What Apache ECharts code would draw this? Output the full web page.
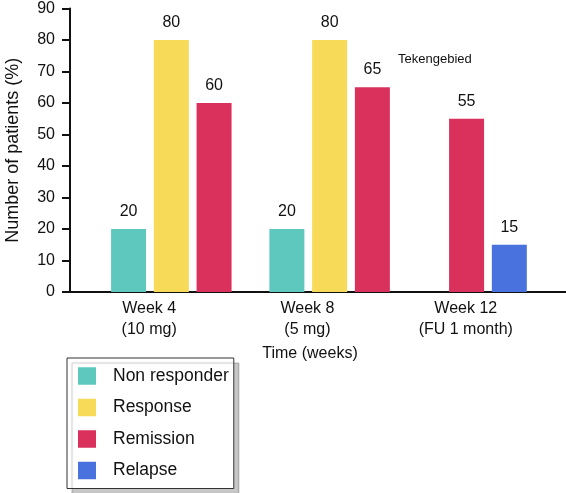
<!DOCTYPE html>
<html><head><meta charset="utf-8">
<script src="https://cdn.jsdelivr.net/npm/echarts@6/dist/echarts.min.js"></script>
<style>html,body{margin:0;padding:0;background:#fff}#c{width:566px;height:493px}</style>
</head><body><div id="c"></div>
<script>
const categories = ['Week 4\n(10 mg)', 'Week 8\n(5 mg)', 'Week 12\n(FU 1 month)'];
const seriesNames = ['Non responder', 'Response', 'Remission', 'Relapse'];
const nonResponder = [20, 20, null];
const response = [80, 80, null];
const remission = [60, 65, 55];
const relapse = [null, null, 15];
const yMin = 0, yMax = 90, yStep = 10;

const allValues = [nonResponder, response, remission, relapse];
const colors = ['#5ec8bf', '#f7da58', '#d9305c', '#4a72df'];
const FONT = '"Liberation Sans", Arial, Helvetica, sans-serif';
const SLOT = 0.27, BAR = 0.221, SHIFT = 0.14;
const catIdx = categories.map((c, i) => i);

function renderBar(si) {
  return function (params, api) {
    const cat = api.value(0), val = api.value(1);
    const present = [];
    allValues.forEach((arr, k) => { if (arr[cat] != null) present.push(k); });
    const n = present.length, k = present.indexOf(si);
    const band = api.size([1, 0])[0];
    const base = api.coord([cat, 0]);
    const top = api.coord([cat, val]);
    const cx = base[0] + band * SHIFT + (k - (n - 1) / 2) * band * SLOT;
    const w = band * BAR;
    return {
      type: 'group', children: [
        { type: 'rect', shape: { x: cx - w / 2, y: top[1], width: w, height: base[1] - top[1] }, style: { fill: colors[si] } },
        { type: 'text', x: cx, y: top[1] - 17.5, style: { text: String(val), fontSize: 16, fontFamily: FONT, fill: '#111', align: 'center', verticalAlign: 'middle' } }
      ]
    };
  };
}

const chart = echarts.init(document.getElementById('c'), null, { renderer: 'canvas' });
chart.setOption({
  animation: false,
  backgroundColor: '#fff',
  textStyle: { fontFamily: FONT },
  title: { text: 'Tekengebied', left: 398, top: 53, padding: 0, textStyle: { fontSize: 13, fontWeight: 'normal', color: '#111', fontFamily: FONT } },
  grid: { left: 70, right: 0, top: 8.5, bottom: 201, containLabel: false, outerBoundsMode: 'none' },
  legend: {
    orient: 'vertical', left: 67, top: 358,
    padding: [9, 5, 9, 11],
    itemWidth: 18, itemHeight: 17.5, itemGap: 13.5, icon: 'rect',
    borderColor: '#333', borderWidth: 1, backgroundColor: '#fff',
    shadowColor: 'rgba(0,0,0,0.22)', shadowOffsetX: 5, shadowOffsetY: 5, shadowBlur: 1,
    textStyle: { fontSize: 17.5, lineHeight: 17, color: '#111', fontFamily: FONT, padding: [0, 0, 0, 12] },
    data: seriesNames
  },
  xAxis: {
    type: 'value', min: -0.5, max: 2.633,
    axisLine: { show: true, onZero: false, lineStyle: { color: '#111', width: 2 } },
    axisTick: { show: false },
    splitLine: { show: false },
    axisLabel: {
      customValues: catIdx,
      formatter: v => categories[Math.round(v)] || '',
      fontSize: 16, lineHeight: 21, margin: 6, color: '#111'
    },
    name: 'Time (weeks)', nameLocation: 'middle', nameGap: 54,
    nameTextStyle: { fontSize: 16, color: '#111', padding: [0, 16, 0, 0] }
  },
  yAxis: {
    type: 'value', min: yMin, max: yMax, interval: yStep,
    axisLine: { show: true, onZero: false, lineStyle: { color: '#111', width: 2 } },
    axisTick: { show: true, length: 8, lineStyle: { width: 2, color: '#111' } },
    axisLabel: { fontSize: 16, margin: 15, color: '#111' },
    splitLine: { show: false },
    name: 'Number of patients (%)', nameLocation: 'middle', nameGap: 48,
    nameTextStyle: { fontSize: 18, color: '#111' }
  },
  series: allValues.map((arr, si) => ({
    name: seriesNames[si], type: 'custom', renderItem: renderBar(si),
    itemStyle: { color: colors[si] },
    encode: { x: 0, y: 1 },
    data: arr.map((v, i) => (v == null ? null : [i, v])).filter(d => d)
  }))
});
</script></body></html>
